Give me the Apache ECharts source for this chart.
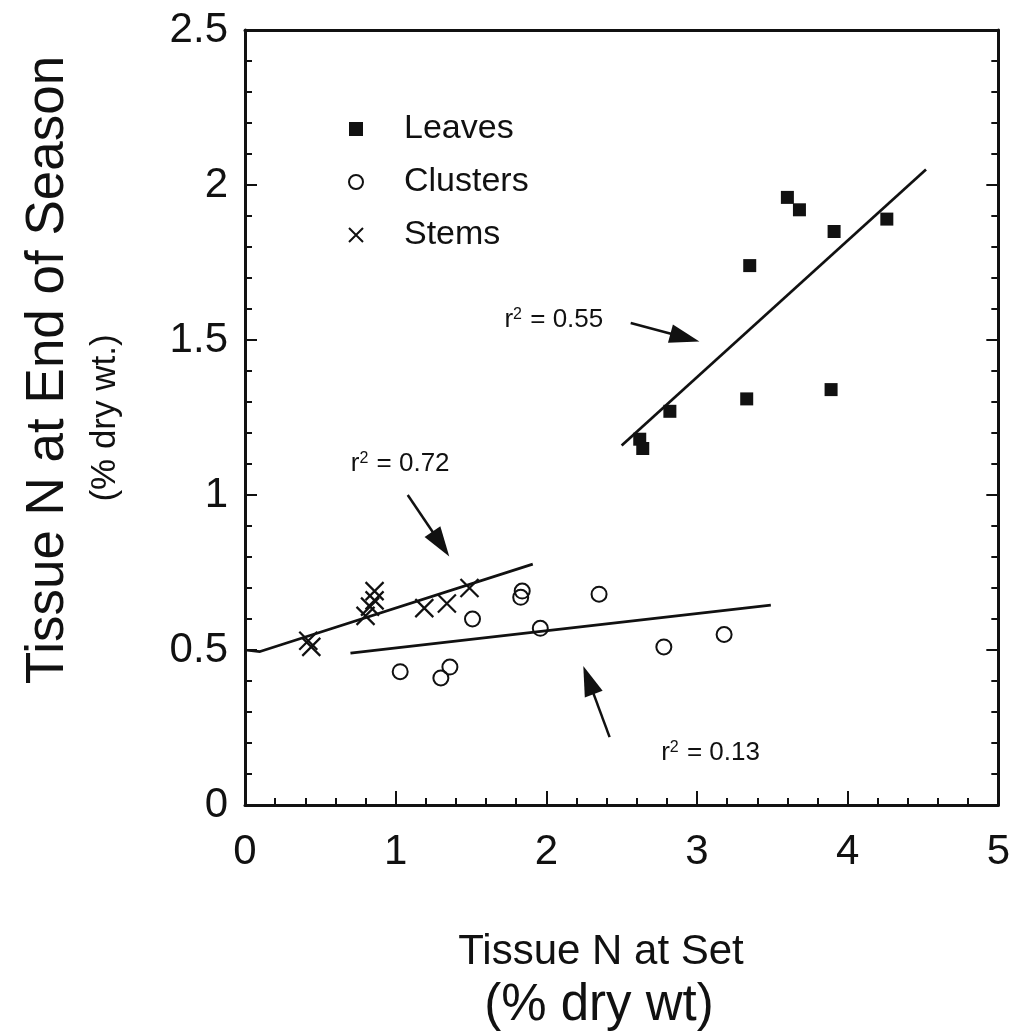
<!DOCTYPE html>
<html>
<head>
<meta charset="utf-8">
<script src="https://cdn.jsdelivr.net/npm/echarts@6/dist/echarts.min.js"></script>
<style>
  html, body { margin: 0; padding: 0; background: #fff; }
  #chart { width: 1013px; height: 1034px; }
</style>
</head>
<body>
<div id="chart"></div>
<script>
// tissue N at set (x) vs tissue N at end of season (y), % dry wt
const leavesX = [2.62, 2.64, 2.82, 3.33, 3.35, 3.60, 3.68, 3.89, 3.91, 4.26]
const leavesY = [1.18, 1.15, 1.27, 1.31, 1.74, 1.96, 1.92, 1.34, 1.85, 1.89]
const clustersX = [1.03, 1.30, 1.36, 1.51, 1.83, 1.84, 1.96, 2.35, 2.78, 3.18]
const clustersY = [0.43, 0.41, 0.445, 0.60, 0.67, 0.69, 0.57, 0.68, 0.51, 0.55]
const stemsX = [0.42, 0.44, 0.80, 0.83, 0.86, 0.86, 1.19, 1.34, 1.49]
const stemsY = [0.53, 0.51, 0.61, 0.64, 0.66, 0.69, 0.635, 0.65, 0.70]

// fitted lines (ends)
const leavesFitX = [2.50, 4.52]
const leavesFitY = [1.16, 2.05]
const clustersFitX = [0.70, 3.49]
const clustersFitY = [0.49, 0.645]
const stemsFitX = [0, 0.10, 1.91]
const stemsFitY = [0.50, 0.495, 0.777]

// r^2 notes and their arrows, in data units
const r2Text = ['0.55', '0.72', '0.13']
const r2X = [2.05, 1.03, 3.09]
const r2Y = [1.565, 1.10, 0.168]
const arrowFromX = [2.56, 1.08, 2.42]
const arrowFromY = [1.555, 1.00, 0.219]
const arrowToX = [2.92, 1.30, 2.28]
const arrowToY = [1.508, 0.842, 0.403]

const xTicks = [0, 1, 2, 3, 4, 5]
const yTicks = [0, 0.5, 1, 1.5, 2, 2.5]

const ink = '#111'
const font = '"Liberation Sans", Arial, sans-serif'

const zip = (xs, ys) => xs.map((x, i) => [x, ys[i]])

const arrow = (i) => ({
  silent: true,
  symbol: ['none', 'triangle'],
  symbolSize: [19, 30],
  label: { show: false },
  lineStyle: { color: ink, width: 2.5, type: 'solid', opacity: 1 },
  itemStyle: { color: ink, opacity: 1 },
  data: [[{ coord: [arrowFromX[i], arrowFromY[i]] }, { coord: [arrowToX[i], arrowToY[i]] }]]
})

const fitLine = (name, xs, ys, i) => ({
  name: name,
  type: 'line',
  symbol: 'none',
  silent: true,
  lineStyle: { color: ink, width: 2.7 },
  data: zip(xs, ys),
  markLine: arrow(i),
  z: 1
})

const chart = echarts.init(document.getElementById('chart'))

const tickStyle = { color: ink, width: 2 }
const baseX = {
  type: 'value',
  min: xTicks[0],
  max: xTicks[xTicks.length - 1],
  interval: 1,
  splitLine: { show: false }
}
const baseY = {
  type: 'value',
  min: yTicks[0],
  max: yTicks[yTicks.length - 1],
  interval: 0.5,
  splitLine: { show: false }
}

const option = {
  animation: false,
  backgroundColor: '#fff',
  textStyle: { fontFamily: font, color: ink },
  grid: { left: 245, right: 13, top: 30, bottom: 229 },
  xAxis: [
    Object.assign({}, baseX, {
      position: 'bottom',
      axisLine: { onZero: false, lineStyle: { color: ink, width: 3 } },
      axisTick: { inside: true, length: 14, lineStyle: tickStyle },
      minorTick: { show: true, splitNumber: 5, length: 7, lineStyle: tickStyle },
      axisLabel: {
        fontSize: 42, margin: 26, color: ink, fontFamily: font,
        formatter: v => String(v)
      }
    }),
    Object.assign({}, baseX, {
      position: 'top',
      axisLine: { onZero: false, lineStyle: { color: ink, width: 3 } },
      axisTick: { show: false },
      axisLabel: { show: false }
    })
  ],
  yAxis: [
    Object.assign({}, baseY, {
      position: 'left',
      axisLine: { onZero: false, lineStyle: { color: ink, width: 3 } },
      axisTick: { inside: true, length: 12, lineStyle: tickStyle },
      minorTick: { show: true, splitNumber: 5, length: 7, lineStyle: tickStyle },
      axisLabel: {
        fontSize: 42, margin: 17, color: ink, fontFamily: font,
        formatter: v => String(v)
      }
    }),
    Object.assign({}, baseY, {
      position: 'right',
      axisLine: { onZero: false, lineStyle: { color: ink, width: 3 } },
      axisTick: { inside: true, length: 12, lineStyle: tickStyle },
      minorTick: { show: true, splitNumber: 5, length: 7, lineStyle: tickStyle },
      axisLabel: { show: false }
    })
  ],
  legend: {
    data: ['Leaves', 'Clusters', 'Stems'],
    orient: 'vertical',
    left: 343,
    top: 107,
    itemWidth: 14,
    itemHeight: 14,
    itemGap: 19,
    textStyle: { fontSize: 34, color: ink, fontFamily: font, padding: [0, 0, 0, 36] }
  },
  graphic: [
    {
      type: 'text', x: 48, y: 370, rotation: Math.PI / 2,
      style: {
        text: 'Tissue N at End of Season', fill: ink, font: '53px ' + font,
        textAlign: 'center', textVerticalAlign: 'middle'
      }
    },
    {
      type: 'text', x: 105, y: 418, rotation: Math.PI / 2,
      style: {
        text: '(% dry wt.)', fill: ink, font: '35px ' + font,
        textAlign: 'center', textVerticalAlign: 'middle'
      }
    },
    {
      type: 'text', x: 601, y: 952,
      style: {
        text: 'Tissue N at Set', fill: ink, font: '42px ' + font,
        textAlign: 'center', textVerticalAlign: 'middle'
      }
    },
    {
      type: 'text', x: 599, y: 1006,
      style: {
        text: '(% dry wt)', fill: ink, font: '51px ' + font,
        textAlign: 'center', textVerticalAlign: 'middle'
      }
    }
  ],
  series: [
    {
      name: 'Leaves',
      type: 'scatter',
      symbol: 'rect',
      symbolSize: 13,
      itemStyle: { color: ink, opacity: 1 },
      data: zip(leavesX, leavesY),
      z: 3
    },
    {
      name: 'Clusters',
      type: 'scatter',
      symbol: 'circle',
      symbolSize: 15,
      itemStyle: { color: 'rgba(0,0,0,0)', borderColor: ink, borderWidth: 2, opacity: 1 },
      data: zip(clustersX, clustersY),
      z: 3
    },
    {
      name: 'Stems',
      type: 'scatter',
      symbol: 'path://M0,0L10,10M10,0L0,10',
      symbolSize: 18,
      itemStyle: { color: 'rgba(0,0,0,0)', borderColor: ink, borderWidth: 2.2, opacity: 1 },
      data: zip(stemsX, stemsY),
      z: 3
    },
    fitLine('fitLeaves', leavesFitX, leavesFitY, 0),
    fitLine('fitStems', stemsFitX, stemsFitY, 1),
    fitLine('fitClusters', clustersFitX, clustersFitY, 2),
    {
      name: 'r2',
      type: 'scatter',
      symbolSize: 0,
      silent: true,
      itemStyle: { opacity: 1 },
      data: r2Text.map((t, i) => ({ value: [r2X[i], r2Y[i]], text: t })),
      label: {
        show: true,
        position: 'inside',
        formatter: p => '{r|r}{s|2}{r| = ' + p.data.text + '}',
        rich: {
          r: { fontSize: 26, color: ink, fontFamily: font },
          s: { fontSize: 16, color: ink, fontFamily: font, verticalAlign: 'top', padding: [0, 1, 9, 0] }
        }
      }
    }
  ]
}

chart.setOption(option)
</script>
</body>
</html>
